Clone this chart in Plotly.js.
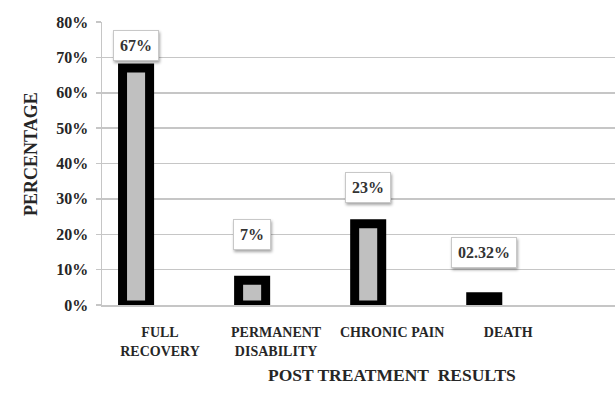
<!DOCTYPE html>
<html>
<head>
<meta charset="utf-8">
<script src="https://cdn.plot.ly/plotly-3.0.1.min.js"></script>
<style>
  html, body { margin: 0; padding: 0; background: #ffffff; }
  #chart { width: 615px; height: 394px; }
  /* soft drop shadow behind the value call-outs */
  .annotation .bg { filter: drop-shadow(1px 2px 1.5px rgba(0,0,0,0.35)); }
</style>
</head>
<body>
<div id="chart"></div>
<script>
// Outcome categories and their share of patients (percent)
const categories = ['FULL<br>RECOVERY', 'PERMANENT<br>DISABILITY', 'CHRONIC PAIN', 'DEATH'];
const percentValues = [67, 7, 23, 2.32];
const valueLabels = ['67%', '7%', '23%', '02.32%'];
const yTickValues = [0, 10, 20, 30, 40, 50, 60, 70, 80];

// Call-out placement: pixels above each bar top
const calloutLift = [22, 46, 36, 44];

const serif = 'Liberation Serif, Times New Roman, serif';
const textColor = '#262626';
const gridGray = '#c6c6c6';

const barTrace = {
  type: 'bar',
  x: categories.map((c, i) => i),
  y: percentValues,
  width: 0.233,
  offset: -0.323,
  cliponaxis: false,
  marker: {
    color: '#c0c0c0',
    line: { color: '#000000', width: 9 }
  },
  hoverinfo: 'skip'
};

const callouts = percentValues.map((v, i) => ({
  xref: 'x', yref: 'y',
  x: i, y: v,
  xshift: -24, yshift: calloutLift[i],
  text: valueLabels[i],
  showarrow: false,
  font: { family: serif, size: 16, color: '#333333', weight: 'bold' },
  bgcolor: '#ffffff',
  bordercolor: '#c8c8c8',
  borderwidth: 1,
  borderpad: 6
}));

const axisTitles = [
  {
    xref: 'paper', yref: 'paper', x: 0.565, y: -0.29,
    text: 'POST TREATMENT&nbsp; RESULTS', showarrow: false,
    font: { family: serif, size: 17.5, color: textColor, weight: 'bold' }
  },
  {
    xref: 'paper', yref: 'paper', x: -0.163, y: 0.535,
    text: 'PERCENTAGE', textangle: -90, showarrow: false,
    font: { family: serif, size: 18, color: textColor, weight: 'bold' }
  }
];

const layout = {
  width: 615,
  height: 394,
  margin: { l: 102, r: 0, t: 22, b: 89 },
  paper_bgcolor: '#ffffff',
  plot_bgcolor: '#ffffff',
  showlegend: false,
  xaxis: {
    type: 'linear',
    range: [-0.5, 3.92],
    tickmode: 'array',
    tickvals: categories.map((c, i) => i),
    ticktext: categories,
    showgrid: false,
    zeroline: false,
    showline: true,
    linecolor: gridGray,
    linewidth: 1.5,
    ticks: '',
    ticklabelstandoff: 14,
    tickfont: { family: serif, size: 14, color: textColor, weight: 'bold' },
    fixedrange: true
  },
  yaxis: {
    range: [0, 80],
    tickmode: 'array',
    tickvals: yTickValues,
    ticktext: yTickValues.map(v => v + '%'),
    showgrid: true,
    gridcolor: gridGray,
    gridwidth: 1.5,
    zeroline: false,
    showline: true,
    linecolor: gridGray,
    linewidth: 1.5,
    ticks: 'outside',
    ticklen: 5,
    tickcolor: gridGray,
    tickwidth: 1.5,
    ticklabelstandoff: 4,
    tickfont: { family: serif, size: 16, color: textColor, weight: 'bold' },
    fixedrange: true
  },
  annotations: callouts.concat(axisTitles)
};

Plotly.newPlot('chart', [barTrace], layout, { displayModeBar: false, staticPlot: true });
</script>
</body>
</html>
